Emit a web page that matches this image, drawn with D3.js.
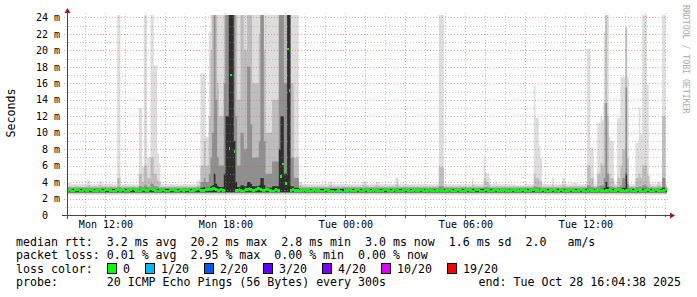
<!DOCTYPE html>
<html>
<head>
<meta charset="utf-8">
<script src="https://cdn.jsdelivr.net/npm/d3@7"></script>
<style>
  body { margin: 0; background: #fff; }
  svg { display: block; font-family: "DejaVu Sans Mono", monospace; }
  text { white-space: pre; }
</style>
</head>
<body>
<svg id="chart" width="697" height="297"></svg>
<script>
const w = 697, h = 297;
const plotLeft = 67, plotRight = 667, plotTop = 15, plotBottom = 215;

// time window of the graph (UTC so the sandbox timezone does not matter)
const startTime = Date.UTC(2025, 9, 27, 10, 4, 38);
const endTime = Date.UTC(2025, 9, 28, 16, 4, 38);
const firstStep = Date.UTC(2025, 9, 27, 10, 5, 0);
const stepMs = 300 * 1000;

// median rtt in ms, one value per 5 minute step (24 per row = 2 hours)
const medianRtt = [
  3.0, 3.1, 3.0, 2.9, 3.0, 3.1, 3.1, 3.0, 2.9, 3.0, 3.1, 3.0, 3.0, 3.2, 3.1, 3.0, 2.9, 3.0, 3.0, 3.1, 3.0, 2.9, 3.0, 3.1,
  3.1, 3.0, 3.0, 2.9, 2.9, 3.0, 3.1, 3.0, 3.0, 3.1, 3.0, 2.9, 3.0, 3.0, 3.1, 3.2, 3.1, 3.0, 3.0, 2.9, 3.0, 3.1, 3.1, 3.0,
  3.0, 3.1, 3.2, 3.1, 3.0, 3.0, 2.9, 3.0, 3.0, 3.1, 3.0, 2.9, 2.9, 3.0, 3.1, 3.1, 3.0, 3.0, 2.9, 3.0, 3.1, 3.0, 3.0, 3.1,
  3.1, 3.0, 2.9, 3.0, 3.0, 3.1, 3.2, 3.1, 3.0, 3.0, 3.0, 3.1, 3.1, 3.2, 3.1, 3.2, 3.2, 3.1, 3.0, 3.0, 3.1, 3.0, 3.0, 26,
  26, 8.1, 17.0, 26, 7.7, 3.0, 3.0, 3.1, 3.0, 2.9, 3.0, 3.1, 3.1, 3.2, 3.1, 3.0, 3.0, 3.1, 3.2, 3.2, 3.1, 3.0, 3.0, 3.1,
  3.1, 3.0, 3.0, 2.9, 3.0, 3.1, 3.0, 3.0, 4.65, 6.2, 5.4, 3.8, 20.2, 15.1, 3.0, 3.1, 3.0, 3.0, 3.0, 2.9, 3.0, 3.0, 3.1, 3.0,
  3.0, 3.0, 2.9, 3.0, 3.1, 3.0, 3.0, 3.0, 2.9, 2.9, 3.0, 3.1, 3.0, 3.0, 2.9, 2.9, 2.8, 2.9, 3.0, 3.0, 2.9, 2.8, 3.0, 3.0,
  3.0, 3.1, 3.0, 2.9, 3.0, 3.0, 3.1, 3.0, 2.9, 3.0, 3.0, 3.1, 3.0, 3.0, 2.9, 3.0, 3.1, 3.0, 3.0, 3.0, 2.9, 3.0, 3.1, 3.1,
  3.0, 3.0, 2.9, 3.0, 3.1, 3.0, 3.0, 2.9, 2.9, 3.0, 3.0, 3.1, 3.0, 3.0, 2.9, 3.0, 3.1, 3.0, 3.0, 3.0, 3.1, 3.0, 2.9, 3.0,
  3.0, 3.1, 3.0, 3.0, 2.9, 3.0, 3.0, 3.1, 3.0, 3.0, 2.9, 3.0, 3.0, 3.1, 3.0, 2.9, 3.0, 3.0, 3.1, 3.0, 3.0, 2.9, 3.0, 3.0,
  3.1, 3.0, 3.0, 2.9, 3.0, 3.1, 3.1, 3.0, 2.9, 2.9, 3.0, 3.1, 3.0, 3.0, 2.9, 3.0, 3.0, 3.1, 3.0, 2.9, 3.0, 3.0, 3.1, 3.0,
  3.0, 2.9, 3.0, 3.1, 3.0, 3.0, 3.0, 2.9, 3.0, 3.1, 3.0, 3.0, 2.9, 3.0, 3.0, 3.1, 3.1, 3.0, 3.0, 2.9, 3.0, 3.1, 3.0, 3.0,
  2.9, 3.0, 3.0, 3.1, 3.0, 3.0, 2.9, 3.0, 3.1, 3.0, 2.9, 3.0, 3.0, 3.0, 3.1, 3.0, 3.0, 2.9, 3.0, 3.0, 3.1, 3.0, 3.0, 2.9,
  3.0, 3.1, 3.0, 3.0, 2.9, 3.0, 3.0, 3.1, 3.0, 3.0, 2.9, 3.0, 3.0, 3.1, 3.0, 2.9, 3.0, 3.0, 3.1, 3.0, 3.0, 3.0, 2.9, 3.0,
  3.0, 3.1, 3.0, 2.9, 3.0, 3.0, 3.1, 3.0, 3.0, 2.9, 3.0, 3.0, 3.1, 3.0, 2.9, 3.0, 3.0, 3.1, 3.0, 3.0, 2.9, 3.0, 3.0, 3.1
];

// steps with lost pings: [step, lost of 20]
const lossSteps = [[165, 1]];

// smoke: bottom and normal top of the 4 grey bands (max, p90, p75, p60)
const smokeFloor = [2.45, 2.6, 2.7, 2.75];
const smokeBase = [3.75, 3.45, 3.3, 3.15];
const smokeColors = ["#dddddd", "#bdbdbd", "#8f8f8f", "#2e2e2e"];

// [fromStep, toStep, max, p90, p75, p60]
const smokeSpikes = [
  [0, 1, 3.9, 3.5, 3.3, 3.15],
  [12, 13, 4.2, 3.6, 3.3, 3.15],
  [19, 20, 4.1, 3.6, 3.3, 3.15],
  [25, 26, 3.8, 3.5, 3.3, 3.15],
  [30, 31, 24.5, 4.5, 3.4, 3.15],
  [43, 44, 13.0, 5.0, 3.5, 3.15],
  [45, 45, 5.8, 4.0, 3.4, 3.15],
  [46, 47, 24.5, 6.0, 3.6, 3.2],
  [48, 49, 7.0, 4.5, 3.4, 3.15],
  [50, 51, 24.5, 7.0, 3.8, 3.2],
  [52, 53, 18.2, 5.0, 3.5, 3.15],
  [54, 54, 7.5, 4.2, 3.4, 3.15],
  [55, 55, 6.3, 4.0, 3.3, 3.15],
  [78, 79, 4.2, 3.6, 3.3, 3.15],
  [80, 81, 17.2, 6.0, 4.0, 3.3],
  [82, 82, 17.2, 9.0, 4.5, 3.4],
  [83, 84, 9.5, 6.0, 4.0, 3.3],
  [85, 85, 22.3, 12.0, 5.0, 3.4],
  [86, 86, 24.5, 20.0, 7.0, 3.5],
  [87, 87, 24.5, 24.5, 10.0, 3.6],
  [88, 88, 24.5, 24.5, 24.5, 5.0],
  [89, 89, 24.5, 24.5, 14.0, 3.8],
  [90, 90, 24.5, 16.0, 7.0, 3.5],
  [91, 93, 24.5, 12.0, 6.0, 3.4],
  [94, 94, 24.5, 24.5, 16.0, 5.0],
  [95, 96, 24.5, 24.5, 24.5, 12.0],
  [97, 99, 24.5, 24.5, 24.5, 24.5],
  [100, 100, 24.5, 24.5, 24.5, 9.0],
  [101, 101, 24.5, 24.5, 12.0, 4.0],
  [102, 103, 24.5, 14.0, 6.0, 3.4],
  [104, 105, 24.5, 24.5, 10.0, 3.6],
  [106, 107, 24.5, 20.0, 8.0, 3.5],
  [108, 109, 24.5, 24.5, 18.0, 4.0],
  [110, 110, 24.5, 24.5, 11.0, 3.8],
  [111, 114, 24.5, 16.0, 7.0, 3.5],
  [115, 115, 24.5, 22.0, 9.0, 3.6],
  [116, 117, 24.5, 24.5, 24.5, 4.5],
  [118, 118, 24.5, 20.0, 9.0, 3.6],
  [119, 122, 24.5, 10.0, 5.0, 3.3],
  [123, 126, 24.5, 14.0, 6.5, 3.5],
  [127, 127, 24.5, 24.5, 24.5, 8.0],
  [128, 129, 24.5, 24.5, 24.5, 12.0],
  [130, 131, 24.5, 24.5, 16.0, 5.0],
  [132, 133, 24.5, 24.5, 24.5, 24.5],
  [134, 135, 24.5, 16.0, 7.0, 3.5],
  [136, 138, 24.5, 7.0, 4.5, 3.3],
  [139, 140, 4.0, 3.6, 3.3, 3.15],
  [157, 158, 4.0, 3.6, 3.3, 3.15],
  [177, 179, 4.0, 3.6, 3.3, 3.15],
  [185, 186, 4.0, 3.6, 3.3, 3.15],
  [197, 198, 4.5, 3.7, 3.3, 3.15],
  [202, 203, 3.8, 3.5, 3.3, 3.15],
  [223, 225, 24.5, 5.8, 3.5, 3.15],
  [243, 243, 4.5, 3.7, 3.3, 3.15],
  [250, 250, 7.2, 4.5, 3.4, 3.15],
  [251, 252, 5.1, 4.0, 3.4, 3.15],
  [253, 253, 4.5, 3.7, 3.3, 3.15],
  [256, 257, 3.9, 3.5, 3.3, 3.15],
  [269, 273, 3.6, 3.45, 3.3, 3.15],
  [280, 280, 15.7, 5.0, 3.5, 3.15],
  [281, 282, 11.8, 4.5, 3.4, 3.15],
  [283, 283, 8.4, 4.2, 3.4, 3.15],
  [284, 284, 6.9, 4.0, 3.3, 3.15],
  [291, 291, 4.6, 3.7, 3.3, 3.15],
  [297, 298, 4.5, 3.7, 3.3, 3.15],
  [303, 305, 3.9, 3.5, 3.3, 3.15],
  [312, 313, 20.2, 6.0, 3.6, 3.2],
  [314, 315, 8.2, 4.5, 3.4, 3.15],
  [318, 319, 11.2, 5.0, 3.5, 3.15],
  [320, 320, 12.1, 6.3, 3.6, 3.2],
  [321, 321, 11.5, 6.0, 3.6, 3.2],
  [322, 322, 22.2, 13.6, 4.5, 3.3],
  [323, 323, 24.5, 24.5, 13.6, 4.0],
  [324, 324, 24.5, 12.0, 5.0, 3.4],
  [325, 325, 9.5, 5.0, 3.5, 3.15],
  [326, 327, 9.0, 4.5, 3.4, 3.15],
  [328, 328, 4.2, 3.6, 3.3, 3.15],
  [330, 331, 11.8, 4.5, 3.4, 3.15],
  [332, 332, 16.8, 6.0, 3.6, 3.2],
  [333, 334, 16.8, 8.0, 4.5, 3.3],
  [335, 335, 22.8, 22.8, 15.5, 5.0],
  [336, 336, 16.8, 7.0, 3.8, 3.2],
  [341, 342, 8.8, 4.5, 3.4, 3.15],
  [343, 343, 13.1, 5.0, 3.5, 3.15],
  [344, 344, 9.8, 4.5, 3.4, 3.15],
  [345, 347, 24.5, 6.0, 3.6, 3.2],
  [348, 348, 15.8, 4.8, 3.4, 3.15],
  [349, 349, 4.8, 3.8, 3.3, 3.15],
  [351, 351, 3.8, 3.5, 3.3, 3.15],
  [354, 355, 4.0, 3.6, 3.3, 3.15],
  [357, 358, 24.5, 12.0, 4.5, 3.3]
];

const yTickValues = [0, 2, 4, 6, 8, 10, 12, 14, 16, 18, 20, 22, 24];

const lossLabels = ["0", "1/20", "2/20", "3/20", "4/20", "10/20", "19/20"];
const lossLimits = [0, 1, 2, 3, 4, 10, 19];
const lossColors = ["#00ff00", "#00b8ff", "#0059ff", "#5e00ff", "#7e00ff", "#dd00ff", "#ff0000"];

const legendRtt = "median rtt:  3.2 ms avg  20.2 ms max  2.8 ms min  3.0 ms now  1.6 ms sd  2.0   am/s";
const legendLoss = "packet loss: 0.01 % avg  2.95 % max  0.00 % min  0.00 % now";
const legendProbe = "probe:       20 ICMP Echo Pings (56 Bytes) every 300s";
const legendEnd = "end: Tue Oct 28 16:04:38 2025";

// build one record per step
const steps = medianRtt.map(function (m, i) {
  let tops = smokeBase;
  smokeSpikes.forEach(function (sp) {
    if (i >= sp[0] && i <= sp[1]) tops = sp.slice(2);
  });
  let lost = 0;
  lossSteps.forEach(function (l) { if (l[0] === i) lost = l[1]; });
  return { t: firstStep + i * stepMs, median: m, tops: tops, lost: lost };
});
// closing point so the last step gets its width
const smokeData = steps.concat([{ t: firstStep + steps.length * stepMs, tops: steps[steps.length - 1].tops }]);

const xScale = d3.scaleUtc().domain([startTime, endTime]).range([plotLeft, plotRight]);
const yScale = d3.scaleLinear().domain([0, 24.3]).range([plotBottom, plotTop]);

const svg = d3.select("#chart");

svg.append("defs").append("clipPath").attr("id", "plotClip")
  .append("rect")
  .attr("x", plotLeft).attr("y", plotTop)
  .attr("width", plotRight - plotLeft).attr("height", plotBottom - plotTop);

// smoke
const smokeG = svg.append("g").attr("clip-path", "url(#plotClip)");
smokeColors.forEach(function (c, k) {
  const area = d3.area()
    .curve(d3.curveStepAfter)
    .x(d => xScale(d.t))
    .y0(yScale(smokeFloor[k]))
    .y1(d => yScale(Math.max(d.tops[k], smokeFloor[k])));
  smokeG.append("path").datum(smokeData).attr("d", area).attr("fill", c);
});

// grid on top of the smoke
const gridG = svg.append("g");
const minorColor = "rgba(150,150,150,0.55)";
const majorColor = "rgba(230,70,70,0.5)";

yScale.ticks(24).forEach(function (v) {
  if (v === 0) return;
  gridG.append("line")
    .attr("x1", plotLeft - (v % 2 === 0 ? 3 : 2)).attr("x2", plotRight + 1)
    .attr("y1", Math.round(yScale(v)) + 0.5).attr("y2", Math.round(yScale(v)) + 0.5)
    .attr("stroke", v % 2 === 0 ? majorColor : minorColor)
    .attr("stroke-dasharray", "1,2");
});

d3.utcHour.every(1).range(startTime, endTime).forEach(function (t) {
  const major = t.getUTCHours() % 3 === 0;
  const x = Math.round(xScale(t)) + 0.5;
  gridG.append("line")
    .attr("x1", x).attr("x2", x)
    .attr("y1", plotBottom).attr("y2", plotTop - 2)
    .attr("stroke", major ? majorColor : minorColor)
    .attr("stroke-dasharray", "1,2");
  gridG.append("line")
    .attr("x1", x).attr("x2", x)
    .attr("y1", plotBottom).attr("y2", plotBottom + (major ? 3 : 2))
    .attr("stroke", "#555");
});

// median, coloured by loss
function lossColor(lost) {
  let idx = 0;
  lossLimits.forEach(function (l, i) { if (lost >= l) idx = i; });
  return lossColors[idx];
}
const medG = svg.append("g").attr("clip-path", "url(#plotClip)");
medG.selectAll("rect")
  .data(steps)
  .join("rect")
  .attr("x", d => xScale(d.t))
  .attr("width", d => xScale(d.t + stepMs) - xScale(d.t))
  .attr("y", d => yScale(d.median + 0.15))
  .attr("height", d => yScale(d.median - 0.15) - yScale(d.median + 0.15))
  .attr("fill", d => lossColor(d.lost))
  .attr("shape-rendering", "crispEdges");

// axes
const xAxisG = svg.append("g")
  .attr("transform", "translate(0," + plotBottom + ")")
  .call(d3.axisBottom(xScale)
    .ticks(d3.utcHour.every(6))
    .tickFormat(d3.utcFormat("%a %H:%M"))
    .tickSize(3).tickPadding(3));
xAxisG.select(".domain").remove();
xAxisG.selectAll(".tick line").remove();
xAxisG.selectAll("text").attr("font-size", 10).attr("font-family", "DejaVu Sans Mono").attr("fill", "#000");

const yAxisG = svg.append("g")
  .attr("transform", "translate(" + plotLeft + ",0)")
  .call(d3.axisLeft(yScale)
    .tickValues(yTickValues)
    .tickFormat(d => d === 0 ? "0" : d + " m")
    .tickSize(3).tickPadding(4));
yAxisG.select(".domain").remove();
yAxisG.selectAll(".tick line").remove();
yAxisG.selectAll("text").attr("font-size", 10).attr("font-family", "DejaVu Sans Mono").attr("fill", "#000");
yAxisG.selectAll(".tick text").filter(d => d === 0).attr("x", -19);

// axis lines with arrows
svg.append("line").attr("x1", plotLeft - 5).attr("x2", plotRight + 3)
  .attr("y1", plotBottom + 0.5).attr("y2", plotBottom + 0.5).attr("stroke", "#444");
svg.append("line").attr("x1", plotLeft + 0.5).attr("x2", plotLeft + 0.5)
  .attr("y1", plotBottom + 4).attr("y2", 12).attr("stroke", "#444");
svg.append("path")
  .attr("d", "M" + (plotRight + 3) + "," + (plotBottom - 2.5) + "L" + (plotRight + 8) + "," + (plotBottom + 0.5) + "L" + (plotRight + 3) + "," + (plotBottom + 3.5) + "Z")
  .attr("fill", "#a01818");
svg.append("path")
  .attr("d", "M" + (plotLeft - 2.5) + ",13L" + (plotLeft + 0.5) + ",8L" + (plotLeft + 3.5) + ",13Z")
  .attr("fill", "#a01818");

// titles
svg.append("text")
  .attr("transform", "translate(11," + 113 + ") rotate(-90)")
  .attr("text-anchor", "middle").attr("dominant-baseline", "central")
  .attr("font-size", 11.6).text("Seconds");

svg.append("text")
  .attr("transform", "translate(686,5) rotate(90)")
  .attr("dominant-baseline", "central")
  .attr("font-size", 8.2).attr("fill", "#aaaaaa")
  .text("RRDTOOL / TOBI OETIKER");

// legend
const legendG = svg.append("g").attr("font-size", 11.6).attr("fill", "#000");
legendG.append("text").attr("x", 16).attr("y", 245.5).text(legendRtt);
legendG.append("text").attr("x", 16).attr("y", 259).text(legendLoss);
legendG.append("text").attr("x", 16).attr("y", 272.5).text("loss color:");
legendG.append("text").attr("x", 16).attr("y", 286).text(legendProbe);
legendG.append("text").attr("x", 681).attr("y", 286).attr("text-anchor", "end").text(legendEnd);

let lx = 107;
lossLabels.forEach(function (lab, i) {
  legendG.append("rect")
    .attr("x", lx + 0.5).attr("y", 263.5)
    .attr("width", 9).attr("height", 10)
    .attr("fill", lossColors[i]).attr("stroke", "#000");
  legendG.append("text").attr("x", lx + 16).attr("y", 272.5).text(lab);
  lx = lx + 16 + lab.length * 7 + 15;
});
</script>
</body>
</html>
